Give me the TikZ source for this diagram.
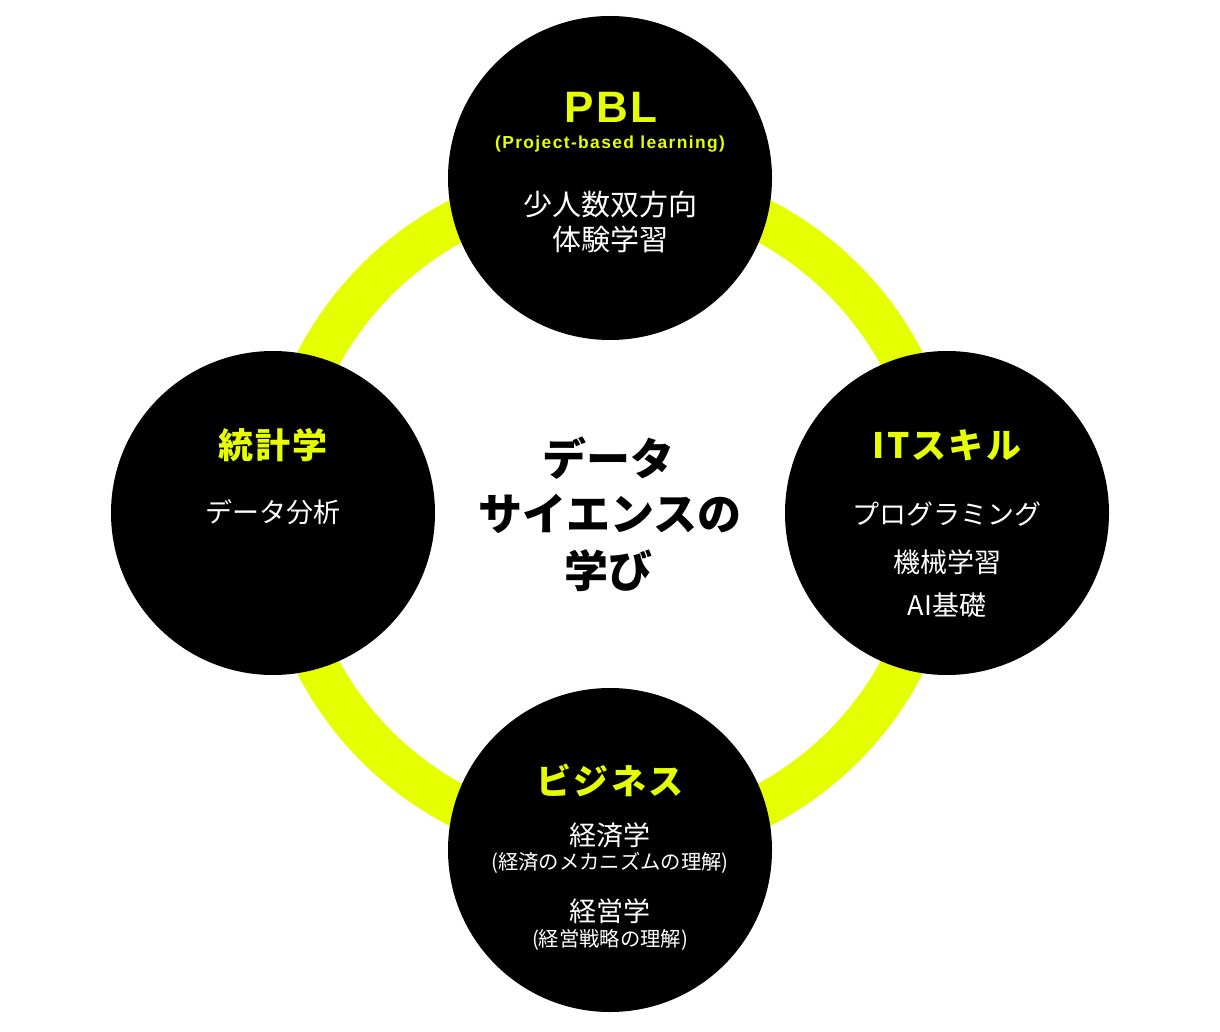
\documentclass[tikz,border=0pt]{standalone}
\usepackage{fontspec}
\newfontfamily\jp{Noto Sans CJK JP}
\newfontfamily\jpsp{Noto Sans CJK JP}[LetterSpace=6]
\newfontfamily\latbig{Liberation Sans Bold}[LetterSpace=6]
\newfontfamily\latsmall{Liberation Sans Bold}[LetterSpace=8]
\definecolor{ringyellow}{RGB}{230,255,0}
\tikzset{
  bubble/.style={circle,fill=black,draw=none,minimum size=324pt,inner sep=0pt},
  ttl/.style={text=ringyellow,font=\jpsp\bfseries\fontsize{35}{40}\selectfont,inner sep=0pt},
  body/.style={text=white,font=\jp\fontsize{27}{32}\selectfont,inner sep=0pt},
  small/.style={text=white,font=\jp\fontsize{20.3}{24}\selectfont,inner sep=0pt},
  center/.style={text=black,font=\jp\bfseries\fontsize{44}{50}\selectfont,inner sep=0pt}
}
\begin{document}
\begin{tikzpicture}[x=1pt,y=-1pt]
\useasboundingbox (0,0) rectangle (1220,1032);
\fill[white] (0,0) rectangle (1220,1032);
\coordinate (mid) at (610,513);
\draw[ringyellow,line width=43pt] (mid) circle[radius=330pt];
\node[bubble] (top) at (610,178) {};
\node[bubble] (left) at (273,513) {};
\node[bubble] (right) at (947,513) {};
\node[bubble] (bottom) at (610,850) {};
% top
\node[text=ringyellow,font=\latbig\fontsize{44}{48}\selectfont,inner sep=0pt] (pbl) at (611,107) {PBL};
\node[text=ringyellow,font=\latsmall\fontsize{17.4}{20}\selectfont,inner sep=0pt] (pblsub) at (610,144) {(Project-based learning)};
\node[body,font=\jp\fontsize{29}{34}\selectfont] (pbl1) at (610,204) {少人数双方向};
\node[body,font=\jp\fontsize{29}{34}\selectfont] (pbl2) at (610,239) {体験学習};
% left
\node[ttl] (stat) at (273,445) {統計学};
\node[body] (stat1) at (273,512) {データ分析};
% right
\node[ttl] (it) at (947,445) {ITスキル};
\node[body] (it1) at (947,514) {プログラミング};
\node[body] (it2) at (947,562) {機械学習};
\node[body] (it3) at (947,605) {AI基礎};
% bottom
\node[ttl] (biz) at (610,780) {ビジネス};
\node[body] (biz1) at (610,835) {経済学};
\node[small] (biz2) at (610,863) {(経済のメカニズムの理解)};
\node[body] (biz3) at (610,911) {経営学};
\node[small] (biz4) at (610,940) {(経営戦略の理解)};
% center
\node[center] (c1) at (608,458) {データ};
\node[center] (c2) at (610,514) {サイエンスの};
\node[center] (c3) at (608,571) {学び};
\end{tikzpicture}
\end{document}
